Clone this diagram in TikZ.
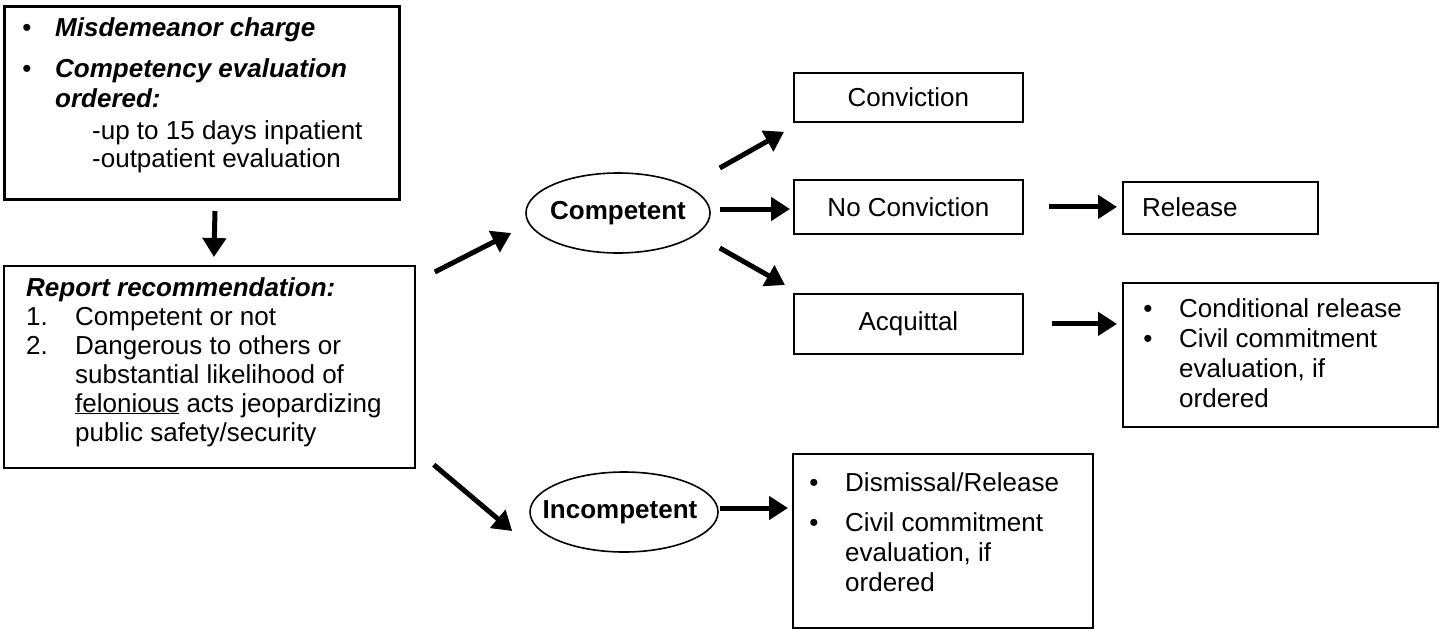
\documentclass[tikz,border=0pt]{standalone}
\usepackage{fontspec}
\setmainfont{Liberation Sans}
\usetikzlibrary{shapes.geometric,arrows.meta}
\newcommand{\basefont}{\fontsize{26pt}{30pt}\selectfont}
\tikzset{
  box/.style={draw, line width=1.8pt, anchor=north west, inner sep=0pt, rectangle},
  oval/.style={draw, line width=1.6pt, ellipse, inner sep=0pt, minimum width=184pt, minimum height=80pt},
  bold/.style={inner sep=0pt, font=\basefont\bfseries},
  txt/.style={anchor=base west, inner sep=0pt},
  bi/.style={txt, font=\basefont\bfseries\itshape},
  dot/.style={anchor=base, inner sep=0pt},
  arr/.style={line width=5pt, -{Triangle[length=19pt,width=23pt]}},
}
\begin{document}
\begin{tikzpicture}[x=1pt,y=-1pt,font=\basefont]
\useasboundingbox (0,0) rectangle (1443,629);
% boxes
\node[box, line width=3pt, minimum width=395pt, minimum height=193pt] (misd) at (3,5) {};
\node[box, minimum width=411pt, minimum height=202pt] (report) at (3,265) {};
\node[oval] (comp) at (618,213) {};
\node[oval, minimum width=188pt] (incomp) at (624,512) {};
\node[box, minimum width=229pt, minimum height=49pt] (conv) at (793,72) {};
\node[box, minimum width=229pt, minimum height=54pt] (nocon) at (793,179) {};
\node[box, minimum width=229pt, minimum height=60pt] (acq) at (793,293) {};
\node[box, minimum width=195pt, minimum height=52pt] (release) at (1122,181) {};
\node[box, minimum width=315pt, minimum height=144pt] (cond) at (1122,282) {};
\node[box, minimum width=300pt, minimum height=174pt] (dism) at (792,453) {};
% single-line labels
\node[bold] (compt) at (comp.center) {Competent};
\node[bold] (incompt) at ([xshift=-4pt]incomp.center) {Incompetent};
\node[inner sep=0pt] (convt) at (conv.center) {Conviction};
\node[inner sep=0pt] (nocont) at (nocon.center) {No Conviction};
\node[inner sep=0pt] (acqt) at (acq.center) {Acquittal};
\node[txt] (relt) at (1142,216) {Release};
% top box text
\node[dot] (b1) at (27,36) {•};
\node[bi] (m1) at (55,36) {Misdemeanor charge};
\node[dot] (b2) at (27,77) {•};
\node[bi] (m2) at (55,77) {Competency evaluation};
\node[bi] (m3) at (55,107) {ordered:};
\node[txt] (m4) at (92,139) {-up to 15 days inpatient};
\node[txt] (m5) at (92,167) {-outpatient evaluation};
% report text
\node[bi] (r0) at (26,296) {Report recommendation:};
\node[txt] (r1n) at (26,325) {1.};
\node[txt] (r1) at (75,325) {Competent or not};
\node[txt] (r2n) at (26,354) {2.};
\node[txt] (r2) at (75,354) {Dangerous to others or};
\node[txt] (r3) at (75,383) {substantial likelihood of};
\node[txt] (r4) at (75,412) {\underline{felonious} acts jeopardizing};
\node[txt] (r5) at (75,441) {public safety/security};
% conditional text
\node[dot] (c1b) at (1148,317) {•};
\node[txt] (c1) at (1179,317) {Conditional release};
\node[dot] (c2b) at (1148,347) {•};
\node[txt] (c2) at (1179,347) {Civil commitment};
\node[txt] (c3) at (1179,377) {evaluation, if};
\node[txt] (c4) at (1179,407) {ordered};
% dismissal text
\node[dot] (d1b) at (814,491) {•};
\node[txt] (d1) at (845,491) {Dismissal/Release};
\node[dot] (d2b) at (814,531) {•};
\node[txt] (d2) at (845,531) {Civil commitment};
\node[txt] (d3) at (845,561) {evaluation, if};
\node[txt] (d4) at (845,591) {ordered};
% arrows
\draw[arr] ([shift={(13pt,-10pt)}]misd.south) -- ([shift={(4.5pt,8pt)}]report.north);
\draw[arr] ([shift={(19pt,-7pt)}]report.north east) -- ([shift={(-14pt,-20pt)}]comp.west);
\draw[arr] ([shift={(18pt,4pt)}]report.south east) -- ([shift={(-17pt,-19pt)}]incomp.west);
\draw[arr] ([shift={(9pt,45pt)}]comp.east) -- ([shift={(-9pt,-9pt)}]conv.south west);
\draw[arr, shorten <=9pt, shorten >=3pt] ([yshift=4pt]comp.east) -- ([yshift=4pt]comp.east -| nocon.west);
\draw[arr] ([shift={(9pt,-35pt)}]comp.east) -- ([shift={(-8pt,8pt)}]acq.north west);
\draw[arr, shorten <=25pt, shorten >=5pt] (nocon.east) -- (nocon.east -| release.west);
\draw[arr, shorten <=28pt, shorten >=5pt] (acq.east) -- (acq.east -| cond.west);
\draw[arr, shorten <=1pt, shorten >=4pt] ([yshift=4pt]incomp.east) -- ([yshift=4pt]incomp.east -| dism.west);
\end{tikzpicture}
\end{document}
